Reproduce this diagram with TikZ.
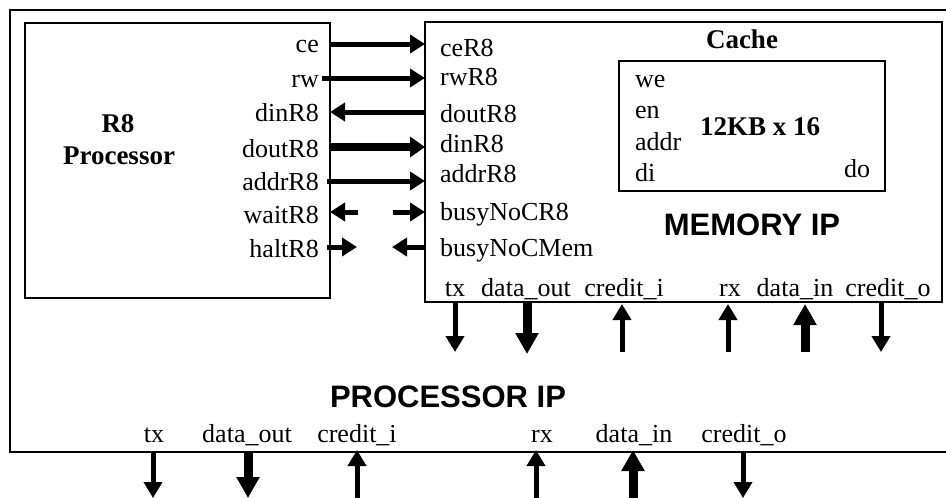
\documentclass[tikz,border=0pt]{standalone}
\usepackage{fontspec}
\setmainfont{Liberation Serif}
\newfontfamily\arialfont{Liberation Sans}
\usetikzlibrary{arrows.meta}
\begin{document}
\begin{tikzpicture}[x=1pt,y=-1pt,
  lbl/.style={font=\fontsize{26}{26}\selectfont, inner sep=0pt},
  rlbl/.style={lbl, anchor=base east},
  llbl/.style={lbl, anchor=base west},
  clbl/.style={lbl, anchor=base},
  boldlbl/.style={font=\fontsize{27}{27}\selectfont\bfseries, inner sep=0pt, anchor=base},
  title/.style={font=\fontsize{31}{31}\selectfont\arialfont\bfseries, inner sep=0pt, anchor=base},
  box/.style={draw, line width=2pt},
  sig/.style={line width=5pt, -{Triangle[length=15pt,width=18pt]}},
  bus/.style={line width=7.5pt, -{Triangle[length=15pt,width=20pt]}},
  vsig/.style={line width=5pt, -{Triangle[length=16pt,width=18pt]}},
  vbus/.style={line width=9pt, -{Triangle[length=21pt,width=22pt]}}
]
\useasboundingbox (0,0) rectangle (946,498);
% boxes
\draw[box] (10,10) rectangle (960,452);
\draw[box] (25,23) rectangle (330,298);
\draw[box] (425,22) rectangle (942,302);
\draw[box] (619,61) rectangle (885,191);

% processor texts
\node[boldlbl] (r8) at (118,132) {R8};
\node[boldlbl] (r8p) at (119,164) {Processor};
\node[rlbl] (lce) at (319,52) {ce};
\node[rlbl] (lrw) at (319,87) {rw};
\node[rlbl] (ldin) at (319,121) {dinR8};
\node[rlbl] (ldout) at (319,157) {doutR8};
\node[rlbl] (laddr) at (319,190) {addrR8};
\node[rlbl] (lwait) at (319,223) {waitR8};
\node[rlbl] (lhalt) at (319,257) {haltR8};

% memory texts
\node[llbl] (mce) at (440,56) {ceR8};
\node[llbl] (mrw) at (440,85) {rwR8};
\node[llbl] (mdout) at (440,122) {doutR8};
\node[llbl] (mdin) at (440,152) {dinR8};
\node[llbl] (maddr) at (440,182) {addrR8};
\node[llbl] (mbc) at (440,220) {busyNoCR8};
\node[llbl] (mbm) at (440,256) {busyNoCMem};

\node[boldlbl] (cache) at (742,48) {Cache};
\node[llbl] (cwe) at (635,87) {we};
\node[llbl] (cen) at (635,118) {en};
\node[llbl] (caddr) at (635,150) {addr};
\node[llbl] (cdi) at (635,181) {di};
\node[clbl] (cdo) at (857,177) {do};
\node[boldlbl] (csize) at (760,135) {12KB x 16};
\node[title] (memip) at (752,235) {MEMORY IP};

\node[clbl] (mtx) at (455,296) {tx};
\node[clbl] (mdo) at (526,296) {data\_out};
\node[clbl] (mci) at (624,296) {credit\_i};
\node[clbl] (mrx) at (730,296) {rx};
\node[clbl] (mdi) at (795,296) {data\_in};
\node[clbl] (mco) at (888,296) {credit\_o};

\node[title] (procip) at (448,407) {PROCESSOR IP};
\node[clbl] (ptx) at (154,442) {tx};
\node[clbl] (pdo) at (247,442) {data\_out};
\node[clbl] (pci) at (357,442) {credit\_i};
\node[clbl] (prx) at (542,442) {rx};
\node[clbl] (pdi) at (634,442) {data\_in};
\node[clbl] (pco) at (744,442) {credit\_o};

% coordinates for connectors
\coordinate (a1) at (330,44);  \coordinate (b1) at (425,44);
\coordinate (a2) at (322,78);  \coordinate (b2) at (425,78);
\coordinate (a3) at (330,112); \coordinate (b3) at (425,112);
\coordinate (a4) at (330,147); \coordinate (b4) at (425,147);
\coordinate (a5) at (327,181); \coordinate (b5) at (425,181);
\coordinate (a6) at (330,212); \coordinate (c6) at (358,212);
\coordinate (d6) at (393,212); \coordinate (b6) at (425,212);
\coordinate (a7) at (327,247); \coordinate (c7) at (357,247);
\coordinate (d7) at (392,247); \coordinate (b7) at (425,247);

\draw[sig] (a1) -- (b1);
\draw[sig] (a2) -- (b2);
\draw[sig] (b3) -- (a3);
\draw[bus] (a4) -- (b4);
\draw[sig] (a5) -- (b5);
\draw[sig] (c6) -- (a6);
\draw[sig] (d6) -- (b6);
\draw[sig] (a7) -- (c7);
\draw[sig] (b7) -- (d7);

% memory bottom ports
\coordinate (m1t) at (455,302); \coordinate (m1b) at (455,352);
\coordinate (m2t) at (527,302); \coordinate (m2b) at (527,354);
\coordinate (m3t) at (622,304); \coordinate (m3b) at (622,352);
\coordinate (m4t) at (728,304); \coordinate (m4b) at (728,352);
\coordinate (m5t) at (805,304); \coordinate (m5b) at (805,352);
\coordinate (m6t) at (881,302); \coordinate (m6b) at (881,352);
\draw[vsig] (m1t) -- (m1b);
\draw[vbus] (m2t) -- (m2b);
\draw[vsig] (m3b) -- (m3t);
\draw[vsig] (m4b) -- (m4t);
\draw[vbus] (m5b) -- (m5t);
\draw[vsig] (m6t) -- (m6b);

% processor IP bottom ports
\coordinate (p1t) at (153,452); \coordinate (p1b) at (153,498);
\coordinate (p2t) at (248,452); \coordinate (p2b) at (248,498);
\coordinate (p3t) at (357,450); \coordinate (p3b) at (357,498);
\coordinate (p4t) at (536,450); \coordinate (p4b) at (536,498);
\coordinate (p5t) at (633,450); \coordinate (p5b) at (633,498);
\coordinate (p6t) at (743,452); \coordinate (p6b) at (743,498);
\draw[vsig] (p1t) -- (p1b);
\draw[vbus] (p2t) -- (p2b);
\draw[vsig] (p3b) -- (p3t);
\draw[vsig] (p4b) -- (p4t);
\draw[vbus] (p5b) -- (p5t);
\draw[vsig] (p6t) -- (p6b);
\end{tikzpicture}
\end{document}
